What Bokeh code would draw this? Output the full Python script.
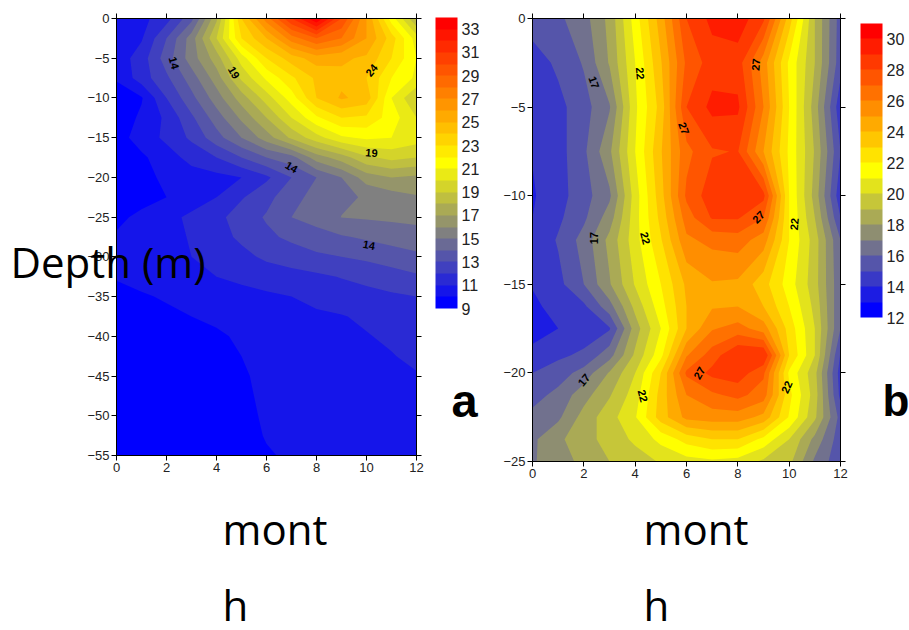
import numpy as np
from bokeh.plotting import figure
from bokeh.layouts import row
from bokeh.embed import file_html
from bokeh.resources import INLINE
from bokeh.models import (ColorBar, FixedTicker, Label, LinearAxis, LinearColorMapper,
                          ColumnDataSource, Range1d)
from bokeh.core.properties import value

months = list(range(13))

# Panel a: temperature at each month, per depth
a_depths = [0, -2.5, -5, -7.5, -10, -12.5, -15, -17.5, -20, -22.5, -25, -27.5, -30,
            -32.5, -35, -37.5, -40, -42.5, -45, -47.5, -50, -52.5, -55]
a_00 = [10.5, 10.7, 11.6, 13.7, 17.8, 24, 27.5, 31, 34, 30, 26, 21.5, 18]
a_01 = [10.3, 10.9, 13, 15.5, 19, 23, 25, 27.5, 29, 28, 26, 23.5, 20.5]
a_02 = [10.4, 11.5, 13.5, 15.5, 17.5, 20.5, 23, 24.5, 25.5, 25.2, 24.8, 23, 21]
a_03 = [10.1, 11.5, 12.8, 14.5, 16.5, 19.2, 21.2, 22.8, 24.2, 24.7, 24, 22, 20.8]
a_04 = [9.5, 9.9, 12, 13.7, 15.5, 17.5, 19.5, 21.5, 24, 25.15, 24.6, 21, 19]
a_05 = [9.3, 10.2, 11.2, 12.8, 14.5, 16.2, 18, 20, 21.8, 23, 22.8, 21.5, 20]
a_06 = [9.5, 10.5, 11.2, 12.2, 13.6, 15, 16.5, 18.2, 19.6, 20.8, 21.2, 21, 20.5]
a_07 = [9.2, 9.8, 10.6, 11.3, 12, 13, 14, 14.6, 16.5, 17.5, 18.8, 19.3, 19]
a_08 = [9.2, 9.7, 10.2, 10.6, 10.7, 11, 11.8, 13, 14, 15, 16.5, 17, 16.8]
a_09 = [9.5, 9.7, 10, 10.5, 11, 11.9, 12.7, 13.6, 14.4, 14.8, 15.1, 15.5, 15.9]
a_10 = [9.8, 10.2, 10.7, 11.2, 11.7, 12.5, 13.1, 14, 14.4, 15.02, 15.12, 15.2, 15.3]
a_11 = [10.1, 10.3, 10.6, 11.1, 11.6, 12.2, 12.8, 13.2, 13.6, 13.9, 14.15, 14.4, 14.55]
a_12 = [10.3, 10.5, 10.7, 11, 11.3, 11.7, 12.2, 12.5, 12.8, 13, 13.2, 13.5, 13.8]
a_13 = [10.1, 10.3, 10.5, 10.7, 11, 11.2, 11.4, 11.6, 11.8, 12.05, 12.3, 12.55, 12.85]
a_14 = [9.6, 9.9, 10.1, 10.3, 10.5, 10.7, 10.85, 11, 11.25, 11.45, 11.65, 11.85, 12]
a_15 = [9.3, 9.5, 9.8, 10, 10.2, 10.4, 10.6, 10.75, 10.85, 10.95, 11.15, 11.4, 11.73]
a_16 = [9.1, 9.2, 9.4, 9.6, 9.85, 10.15, 10.4, 10.6, 10.75, 10.85, 10.95, 11.15, 11.46]
a_17 = [9.05, 9.1, 9.2, 9.4, 9.6, 10, 10.25, 10.45, 10.6, 10.7, 10.8, 10.95, 11.2]
a_18 = [9, 9.05, 9.1, 9.3, 9.5, 9.9, 10.2, 10.4, 10.5, 10.6, 10.65, 10.78, 10.93]
a_19 = [9, 9, 9.1, 9.2, 9.4, 9.8, 10.2, 10.35, 10.45, 10.5, 10.55, 10.6, 10.7]
a_20 = [9, 9, 9.1, 9.2, 9.3, 9.7, 10.15, 10.3, 10.4, 10.45, 10.45, 10.5, 10.5]
a_21 = [9, 9, 9, 9.1, 9.2, 9.6, 10.07, 10.2, 10.3, 10.35, 10.35, 10.4, 10.4]
a_22 = [9, 9, 9, 9, 9.1, 9.5, 9.9, 10.15, 10.2, 10.25, 10.3, 10.3, 10.3]
a_rows = [a_00, a_01, a_02, a_03, a_04, a_05, a_06, a_07, a_08, a_09, a_10, a_11,
          a_12, a_13, a_14, a_15, a_16, a_17, a_18, a_19, a_20, a_21, a_22]

# Panel b
b_depths = [0, -2.5, -5, -7.5, -10, -11.25, -12.5, -15, -16.25, -17.5, -19, -20,
            -21.25, -22.5, -23.75, -25]
b_00 = [15.5, 15.8, 16.6, 18.3, 21.5, 24.5, 28, 29.3, 29.6, 28.2, 23.5, 19, 15.5]
b_01 = [14.5, 15.2, 16.1, 18.1, 21, 23.9, 27.2, 28.5, 28.5, 25.5, 21.8, 19, 15.4]
b_02 = [14.2, 14.7, 15.6, 16.9, 20.8, 23.4, 28, 29.3, 29.2, 26, 22, 18.5, 14.3]
b_03 = [14.05, 14.6, 15.8, 17.8, 21, 23.9, 26.7, 27.9, 28.05, 25, 21.8, 18.9, 15]
b_04 = [13.9, 14.6, 15.6, 16.8, 20.5, 23.6, 27.2, 28.6, 28.8, 28.3, 22, 18.6, 14.3]
b_05 = [14, 14.8, 15.8, 17.5, 20.6, 23.3, 26.5, 28.1, 28.1, 27, 22, 19, 15]
b_06 = [14.2, 15.1, 16.4, 18.3, 20.6, 22.9, 25.8, 26.3, 26.5, 25.5, 22, 19.5, 16]
b_07 = [14.1, 14.7, 16, 17.9, 20.1, 22, 24.2, 24.9, 24.8, 23.4, 21.5, 19.4, 16.2]
b_08 = [13.7, 14.5, 14.8, 16.6, 19.3, 21.6, 24, 24.9, 25, 24, 22, 19.7, 16.1]
b_09 = [13.3, 14, 14.4, 14.9, 18.5, 21, 24, 25.9, 26.4, 25.5, 22.6, 20, 16]
b_10 = [14.5, 14.8, 15.2, 16.6, 19.2, 21.7, 25.9, 27.5, 29, 29, 23, 20, 14.9]
b_11 = [15, 15.5, 16.4, 18.1, 20, 23, 27.2, 28.3, 28.6, 27.2, 21.8, 19.3, 14.5]
b_12 = [15.6, 16.3, 17.6, 18.9, 20.5, 23.4, 26, 26.8, 27.3, 26.5, 22.3, 19.5, 14.7]
b_13 = [16.3, 16.8, 18.4, 19.6, 20.9, 23.5, 25.3, 25.5, 25.5, 24.7, 21.9, 19.2, 15.6]
b_14 = [16.8, 17.8, 18.6, 19.4, 20.2, 21.3, 22.4, 23, 23, 21.7, 20, 17.7, 15.4]
b_15 = [16.9, 17.5, 18.3, 19, 19.5, 20.1, 20.6, 20.8, 20.6, 19.8, 19.3, 16.8, 15.3]
b_rows = [b_00, b_01, b_02, b_03, b_04, b_05, b_06, b_07, b_08, b_09, b_10, b_11,
          b_12, b_13, b_14, b_15]

a_ticks_y = [0, -5, -10, -15, -20, -25, -30, -35, -40, -45, -50, -55]
b_ticks_y = [0, -5, -10, -15, -20, -25]
ticks_x = [0, 2, 4, 6, 8, 10, 12]
a_bar_ticks = [9, 11, 13, 15, 17, 19, 21, 23, 25, 27, 29, 31, 33]
b_bar_ticks = [12, 14, 16, 18, 20, 22, 24, 26, 28, 30]

a_lab_x = [2.3, 4.7, 10.2, 10.2, 7.0, 10.1]
a_lab_y = [-5.6, -6.8, -6.5, -16.9, -18.7, -28.5]
a_lab_t = ["14", "19", "24", "19", "14", "14"]
a_lab_r = [-75, -60, 50, -5, -30, -10]
b_lab_x = [2.4, 4.2, 8.7, 5.9, 2.4, 4.4, 8.8, 10.2, 2.0, 4.3, 6.5, 9.9]
b_lab_y = [-3.6, -3.1, -2.6, -6.2, -12.4, -12.4, -11.2, -11.6, -20.4, -21.3, -20.0, -20.8]
b_lab_t = ["17", "22", "27", "27", "17", "22", "27", "22", "17", "22", "27", "22"]
b_lab_r = [-70, -85, 85, -70, 90, -75, 45, 85, 50, -75, 60, 65]


def make_palette(n, mid):
    out = []
    for k in range(n):
        if k <= mid:
            t = k / mid
            out.append((round(255 * t), round(255 * t), round(255 * (1 - t))))
        else:
            t = (k - mid) / (n - 1 - mid)
            out.append((255, round(255 * (1 - t)), 0))
    return ["#%02x%02x%02x" % c for c in out]


def panel(width, fw, fh, depths, rows, lo, hi, mid, yticks, bar_ticks, bar_x, bar_y, bar_h,
          lx, ly, lt, lr, left):
    p = figure(width=width, height=630, output_backend="svg", toolbar_location=None,
               x_range=Range1d(0, 12), y_range=Range1d(depths[-1], 0),
               frame_width=fw, frame_height=fh, min_border_left=left, min_border_top=18,
               min_border_right=width - left - fw, min_border_bottom=630 - 18 - fh,
               x_axis_location="below", y_axis_location="left", outline_line_color="black")
    p.grid.visible = False
    pal = make_palette(hi - lo, mid)
    z = np.array(rows, dtype=float)[::-1]
    xs = np.array(months, dtype=float)
    ys = np.array(depths, dtype=float)[::-1]
    # painted lowest band first, each covering everything above it, so no seams show
    for i, colour in enumerate(pal):
        p.contour(xs, ys, z, [lo + i - (0.5 if i == 0 else 0), 100], fill_color=[colour], line_color=None)
    src = ColumnDataSource(dict(x=lx, y=ly, t=lt, a=np.radians(lr)))
    p.text("x", "y", text="t", angle="a", source=src, text_align="center", text_baseline="middle",
           text_font=value("Liberation Sans"), text_font_style="bold", text_font_size="11px",
           text_color="black")
    for ax, ticks in ((p.xaxis[0], ticks_x), (p.yaxis[0], yticks)):
        ax.ticker = FixedTicker(ticks=ticks)
        ax.major_label_text_font = "Liberation Sans"
        ax.major_label_text_font_size = "13px"
        ax.major_label_text_color = "#222222"
        ax.major_tick_out = 5
        ax.major_tick_in = 0
        ax.minor_tick_line_color = None
        ax.major_label_standoff = 2
    top = LinearAxis(ticker=FixedTicker(ticks=ticks_x), major_label_text_font_size="1px",
                     major_label_text_color=None, major_label_standoff=0,
                     major_tick_out=5, major_tick_in=0, minor_tick_line_color=None)
    right = LinearAxis(ticker=FixedTicker(ticks=yticks), major_label_text_font_size="1px",
                       major_label_text_color=None, major_label_standoff=0,
                       major_tick_out=5, major_tick_in=0, minor_tick_line_color=None)
    p.add_layout(top, "above")
    p.add_layout(right, "right")
    mapper = LinearColorMapper(palette=pal, low=lo, high=hi)
    cb = ColorBar(color_mapper=mapper, ticker=FixedTicker(ticks=bar_ticks),
                  location=(bar_x, bar_y), width=22, height=bar_h, padding=0,
                  major_tick_line_color=None, minor_tick_line_color=None, bar_line_color=None,
                  major_label_text_font="Liberation Sans", major_label_text_font_size="16px",
                  major_label_text_color="#222222", label_standoff=4,
                  background_fill_color=None, border_line_color=None)
    p.add_layout(cb)
    return p


def big(p, text, x, y, size, font="Open Sans", style="normal"):
    p.add_layout(Label(x=x, y=y, x_units="canvas", y_units="canvas", text=text,
                       text_font=font, text_font_size=size, text_font_style=style,
                       text_color="black", text_baseline="alphabetic"), "below")


pa = panel(490, 300, 437, a_depths, a_rows, 9, 34, 12, a_ticks_y, a_bar_ticks, 319, 147, 291,
           a_lab_x, a_lab_y, a_lab_t, a_lab_r, 116)
pb = panel(419, 308, 443, b_depths, b_rows, 12, 31, 9, b_ticks_y, b_bar_ticks, 328, 144, 294,
           b_lab_x, b_lab_y, b_lab_t, b_lab_r, 42)

big(pa, "Depth (m)", 10, 261, "42px")
big(pa, "mont", 222, 528, "42px")
big(pa, "h", 222, 604, "42px")
big(pa, "a", 451, 400, "47px", "Liberation Sans", "bold")
big(pb, "mont", 153, 528, "42px")
big(pb, "h", 153, 604, "42px")
big(pb, "b", 392, 400, "44px", "Liberation Sans", "bold")

page = row(pa, pb, spacing=0)
open("out.html", "w").write(file_html(page, INLINE))
